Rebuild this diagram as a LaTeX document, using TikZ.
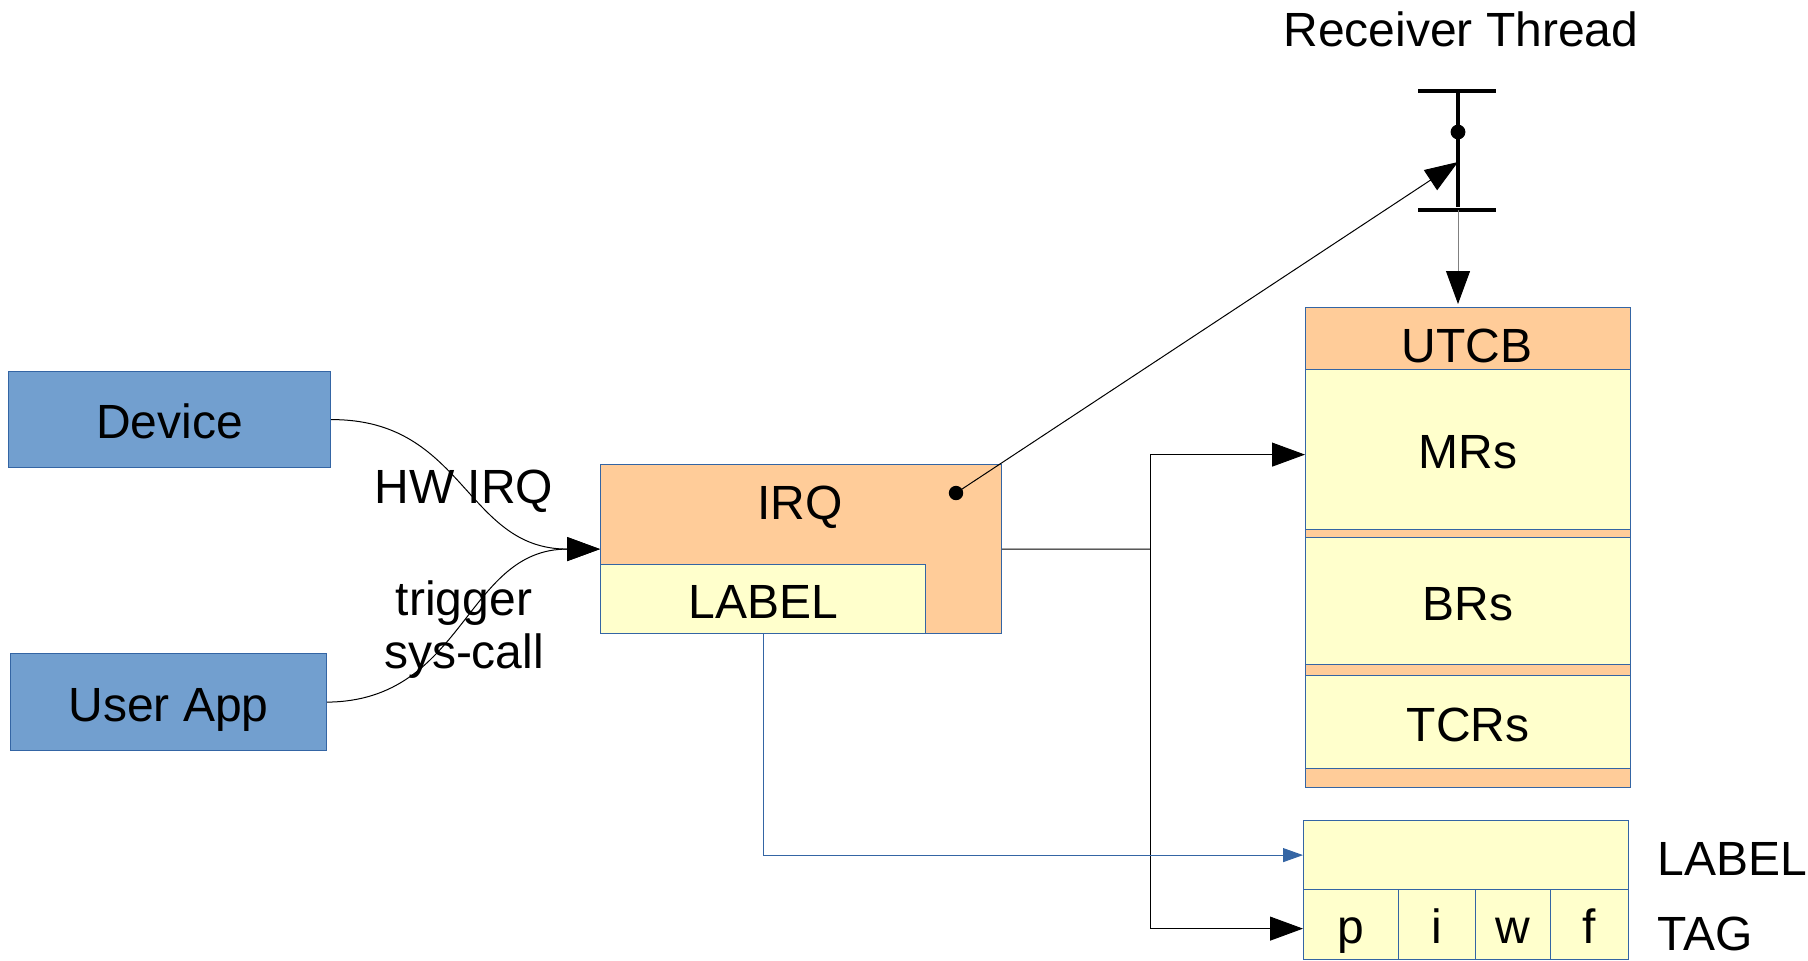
\documentclass[tikz,border=0pt]{standalone}
\usepackage{fontspec}
\setmainfont{Liberation Sans}
\usetikzlibrary{arrows.meta,calc}

\definecolor{boxblue}{RGB}{114,159,207}
\definecolor{lineblue}{RGB}{52,101,164}
\definecolor{boxorange}{RGB}{255,204,153}
\definecolor{boxyellow}{RGB}{255,255,204}

\tikzset{every picture/.style={line width=0.5pt}}
\tikzset{
	cell/.style={draw=lineblue, line width=0.6pt, anchor=north west, inner sep=0pt, text height=19.2pt, text depth=0pt, font=\fontsize{24}{26.5}\selectfont},
	devbox/.style={cell, fill=boxblue},
	regbox/.style={cell, fill=boxyellow},
	hdrbox/.style={cell, fill=boxorange},
	txt/.style={font=\fontsize{24}{26.5}\selectfont, inner sep=0pt, align=center},
	bigarr/.style={-{Triangle[length=16.5pt,width=12pt,color=black]}},
	smallarr/.style={draw=lineblue, -{Triangle[length=10pt,width=7pt,color=lineblue]}}
}

\begin{document}
\begin{tikzpicture}[x=0.5pt,y=0.5pt,yscale=-1,xscale=1]
	\useasboundingbox (0,0) rectangle (1808,960);

	%Shape: Rectangle [id:device]
	\node[devbox, minimum width=161pt, minimum height=48pt] (device) at (8,371) {Device};
	%Shape: Rectangle [id:userapp]
	\node[devbox, minimum width=158pt, minimum height=48.5pt] (userapp) at (10,653) {User App};

	%Shape: Rectangle [id:irq]
	\node[hdrbox, minimum width=200.5pt, minimum height=84.5pt] (irq) at (600,464) {};
	\node[regbox, minimum width=162.5pt, minimum height=34.5pt] (irqlabel) at (600,564) {LABEL};
	\node[txt] (irqtxt) at (800,507) {IRQ};
	\coordinate (irqdot) at (956,493);
	\fill (irqdot) circle (3.6pt);

	%Shape: Rectangle [id:utcb]
	\node[hdrbox, minimum width=162.5pt, minimum height=240pt] (utcb) at (1305,307) {};
	\node[txt] (utcbtxt) at (1467,346) {UTCB};
	\node[regbox, minimum width=162.5pt, minimum height=80pt] (mrs) at (1305,369) {MRs};
	\node[regbox, minimum width=162.5pt, minimum height=63.5pt] (brs) at (1305,537) {BRs};
	\node[regbox, minimum width=162.5pt, minimum height=46.5pt] (tcrs) at (1305,675) {TCRs};

	%Shape: Rectangle [id:label and tag]
	\node[regbox, minimum width=162.5pt, minimum height=34.5pt] (lblbox) at (1303,820) {};
	\node[regbox, minimum width=47.5pt, minimum height=35pt] (tagp) at (1303,889) {p};
	\node[regbox, minimum width=38.5pt, minimum height=35pt] (tagi) at (1398,889) {i};
	\node[regbox, minimum width=37.5pt, minimum height=35pt] (tagw) at (1475,889) {w};
	\node[regbox, minimum width=39pt, minimum height=35pt] (tagf) at (1550,889) {f};

	% Text Node
	\node[txt, anchor=west] (lbltxt) at (1657,859) {LABEL};
	% Text Node
	\node[txt, anchor=west] (tagtxt) at (1657,934) {TAG};
	% Text Node
	\node[txt] (rthtxt) at (1461,29) {Receiver Thread};
	% Text Node
	\node[txt] (hwirq) at (464,491) {HW IRQ};
	% Text Node
	\node[txt] (trig) at (464,630) {trigger\\sys-call};

	%Thread symbol
	\coordinate (thtop) at (1458,91);
	\coordinate (thbot) at (1458,210);
	\coordinate (thin) at (1458,162);
	\draw[line width=2pt] (1418,91) -- (1496,91);
	\draw[line width=2pt] (1418,210) -- (1496,210);
	\draw[line width=2pt] (thtop) -- (1458,207);
	\fill (1458,132) circle (3.7pt);

	%Curve Lines
	\draw[bigarr] (device.east) .. controls (465,419) and (465,549) .. (irq.west);
	\draw[bigarr] (userapp.east) .. controls (465,701) and (465,549) .. (irq.west);

	%Straight Lines
	\draw[bigarr] (irqdot) -- (thin);
	\coordinate (utcbin) at (1458,304);
	\draw[draw=gray, bigarr] (thbot) -- (utcbin);
	\coordinate (jn) at (1150,549);
	\draw (irq.east) -- (jn);
	\draw[bigarr] (jn) |- ($(mrs.west)+(0,5)$);
	\draw[bigarr] (jn) |- ($(tagp.west)+(0,4)$);
	\draw[smallarr] (irqlabel.south) |- (lblbox.west);

\end{tikzpicture}
\end{document}
